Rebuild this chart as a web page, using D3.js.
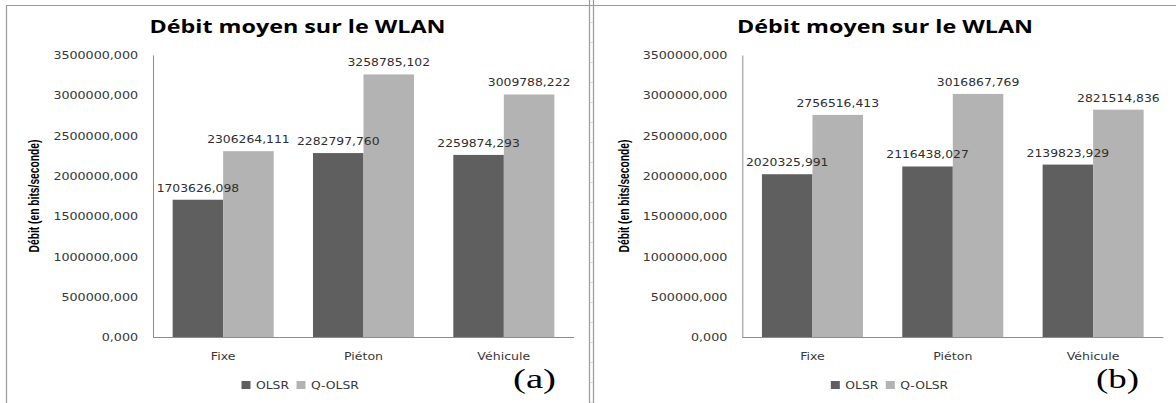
<!DOCTYPE html>
<html>
<head>
<meta charset="utf-8">
<script src="https://cdn.jsdelivr.net/npm/d3@7"></script>
<style>
  html, body { margin: 0; padding: 0; background: #fff; }
  svg { display: block; }
</style>
</head>
<body>
<svg id="chart" width="1176" height="403"></svg>
<script>
// ---- data ----
const categories = ["Fixe", "Piéton", "Véhicule"];
const seriesNames = ["OLSR", "Q-OLSR"];
const olsrA  = [1703626.098, 2282797.760, 2259874.293];
const qolsrA = [2306264.111, 3258785.102, 3009788.222];
const olsrB  = [2020325.991, 2116438.027, 2139823.929];
const qolsrB = [2756516.413, 3016867.769, 2821514.836];
const yTicks = [0, 500000, 1000000, 1500000, 2000000, 2500000, 3000000, 3500000];
const chartTitle = "Débit moyen sur le WLAN";
const yTitle = "Débit (en bits/seconde)";
const panelLabels = ["(a)", "(b)"];

// ---- style ----
const colors = { "OLSR": "#5f5f5f", "Q-OLSR": "#b3b3b3" };
const svg = d3.select("#chart");

function stretch(sel, f) {
  sel.each(function () {
    const w = this.getComputedTextLength();
    this.setAttribute("textLength", w * f);
    this.setAttribute("lengthAdjust", "spacingAndGlyphs");
  });
}
const fmt = v => d3.format(".3f")(v).replace(".", ",");

// ---- frame (spreadsheet borders) ----
const frame = svg.append("g").attr("stroke", "#9a9a9a").attr("stroke-width", 1.2);
frame.append("line").attr("x1", 6).attr("x2", 1176).attr("y1", 5.5).attr("y2", 5.5);
frame.append("line").attr("x1", 6.5).attr("x2", 6.5).attr("y1", 5).attr("y2", 403);
frame.append("line").attr("x1", 589.5).attr("x2", 589.5).attr("y1", 0).attr("y2", 403);
frame.append("line").attr("x1", 593.5).attr("x2", 593.5).attr("y1", 0).attr("y2", 403);
const thin = svg.append("g").attr("stroke", "#dcdcdc").attr("stroke-width", 1);
d3.range(22, 403, 20).forEach(yy => {
  thin.append("line").attr("x1", 590).attr("x2", 593).attr("y1", yy + 0.5).attr("y2", yy + 0.5);
});

const panels = [
  { left: 153, titleX: 297.5, olsr: olsrA, qolsr: qolsrA, label: panelLabels[0], labelX: 513, yTitleX: 35 },
  { left: 742.3, titleX: 885, olsr: olsrB, qolsr: qolsrB, label: panelLabels[1], labelX: 1096, yTitleX: 625 }
];

const plotW = 421, plotTop = 55, plotBottom = 337;

panels.forEach(p => {
  const g = svg.append("g");
  const x0 = d3.scaleBand().domain(categories).range([p.left, p.left + plotW])
    .paddingInner(0.28).paddingOuter(0.14);
  const x1 = d3.scaleBand().domain(seriesNames).range([0, x0.bandwidth()]).padding(0);
  const y = d3.scaleLinear().domain([0, 3500000]).range([plotBottom, plotTop]);

  const rows = categories.map((c, i) => ({ cat: c, vals: [
    { s: "OLSR", v: p.olsr[i] }, { s: "Q-OLSR", v: p.qolsr[i] } ] }));

  // title
  g.append("text").attr("x", p.titleX).attr("y", 33)
    .attr("text-anchor", "middle")
    .attr("font-family", "Open Sans, sans-serif").attr("font-weight", "bold")
    .attr("font-size", 18).attr("fill", "#000")
    .text(chartTitle)
    .attr("textLength", 296).attr("lengthAdjust", "spacingAndGlyphs");

  // y axis
  const ya = g.append("g").attr("transform", `translate(${p.left},0)`)
    .call(d3.axisLeft(y).tickValues(yTicks).tickSize(0).tickSizeOuter(0).tickPadding(15).tickFormat(fmt));
  ya.select(".domain").attr("stroke", "#8c8c8c");
  ya.selectAll("text").attr("font-family", "DejaVu Sans, sans-serif").attr("font-size", 10.3)
    .attr("fill", "#383838").attr("dy", "0.35em");
  stretch(ya.selectAll("text"), 1.23);

  // x axis line
  g.append("line").attr("x1", p.left).attr("x2", p.left + plotW)
    .attr("y1", plotBottom + 0.5).attr("y2", plotBottom + 0.5).attr("stroke", "#8c8c8c");

  // bars
  const grp = g.selectAll(".cat").data(rows).join("g").attr("class", "cat")
    .attr("transform", d => `translate(${x0(d.cat)},0)`);
  grp.selectAll("rect").data(d => d.vals).join("rect")
    .attr("x", d => x1(d.s)).attr("width", x1.bandwidth())
    .attr("y", d => y(d.v)).attr("height", d => y(0) - y(d.v))
    .attr("fill", d => colors[d.s]);
  const dl = grp.selectAll("text").data(d => d.vals).join("text")
    .attr("x", d => x1(d.s) + x1.bandwidth() / 2)
    .attr("y", d => y(d.v) - 8)
    .attr("text-anchor", "middle")
    .attr("font-family", "DejaVu Sans, sans-serif").attr("font-size", 10.3).attr("fill", "#2e2e2e")
    .text(d => fmt(d.v));
  stretch(dl, 1.2);

  // x labels
  const xl = g.selectAll(".xl").data(categories).join("text").attr("class", "xl")
    .attr("x", d => x0(d) + x0.bandwidth() / 2).attr("y", 360)
    .attr("text-anchor", "middle")
    .attr("font-family", "DejaVu Sans, sans-serif").attr("font-size", 10.3).attr("fill", "#383838")
    .text(d => d);
  stretch(xl, 1.22);

  // y title
  g.append("text")
    .attr("transform", `translate(${p.yTitleX + 4},196) rotate(-90) scale(1,1.3)`)
    .attr("text-anchor", "middle")
    .attr("font-family", "Liberation Sans, Arial, sans-serif").attr("font-weight", "bold")
    .attr("font-size", 11.5).attr("fill", "#000")
    .text(yTitle)
    .attr("textLength", 113).attr("lengthAdjust", "spacingAndGlyphs");

  // legend
  seriesNames.forEach((s, i) => {
    const lx = p.left + 88.5 + i * 55;
    g.append("rect").attr("x", lx).attr("y", 381).attr("width", 9).attr("height", 8).attr("fill", colors[s]);
    const t = g.append("text").attr("x", lx + 14.5).attr("y", 389)
      .attr("font-family", "DejaVu Sans, sans-serif").attr("font-size", 10.3).attr("fill", "#383838")
      .text(s);
    stretch(t, 1.2);
  });

  // panel label
  g.append("text").attr("x", p.labelX).attr("y", 388)
    .attr("font-family", "Liberation Serif, Times New Roman, serif").attr("font-size", 28).attr("fill", "#000")
    .text(p.label)
    .attr("textLength", 43).attr("lengthAdjust", "spacingAndGlyphs");
});
</script>
</body>
</html>
